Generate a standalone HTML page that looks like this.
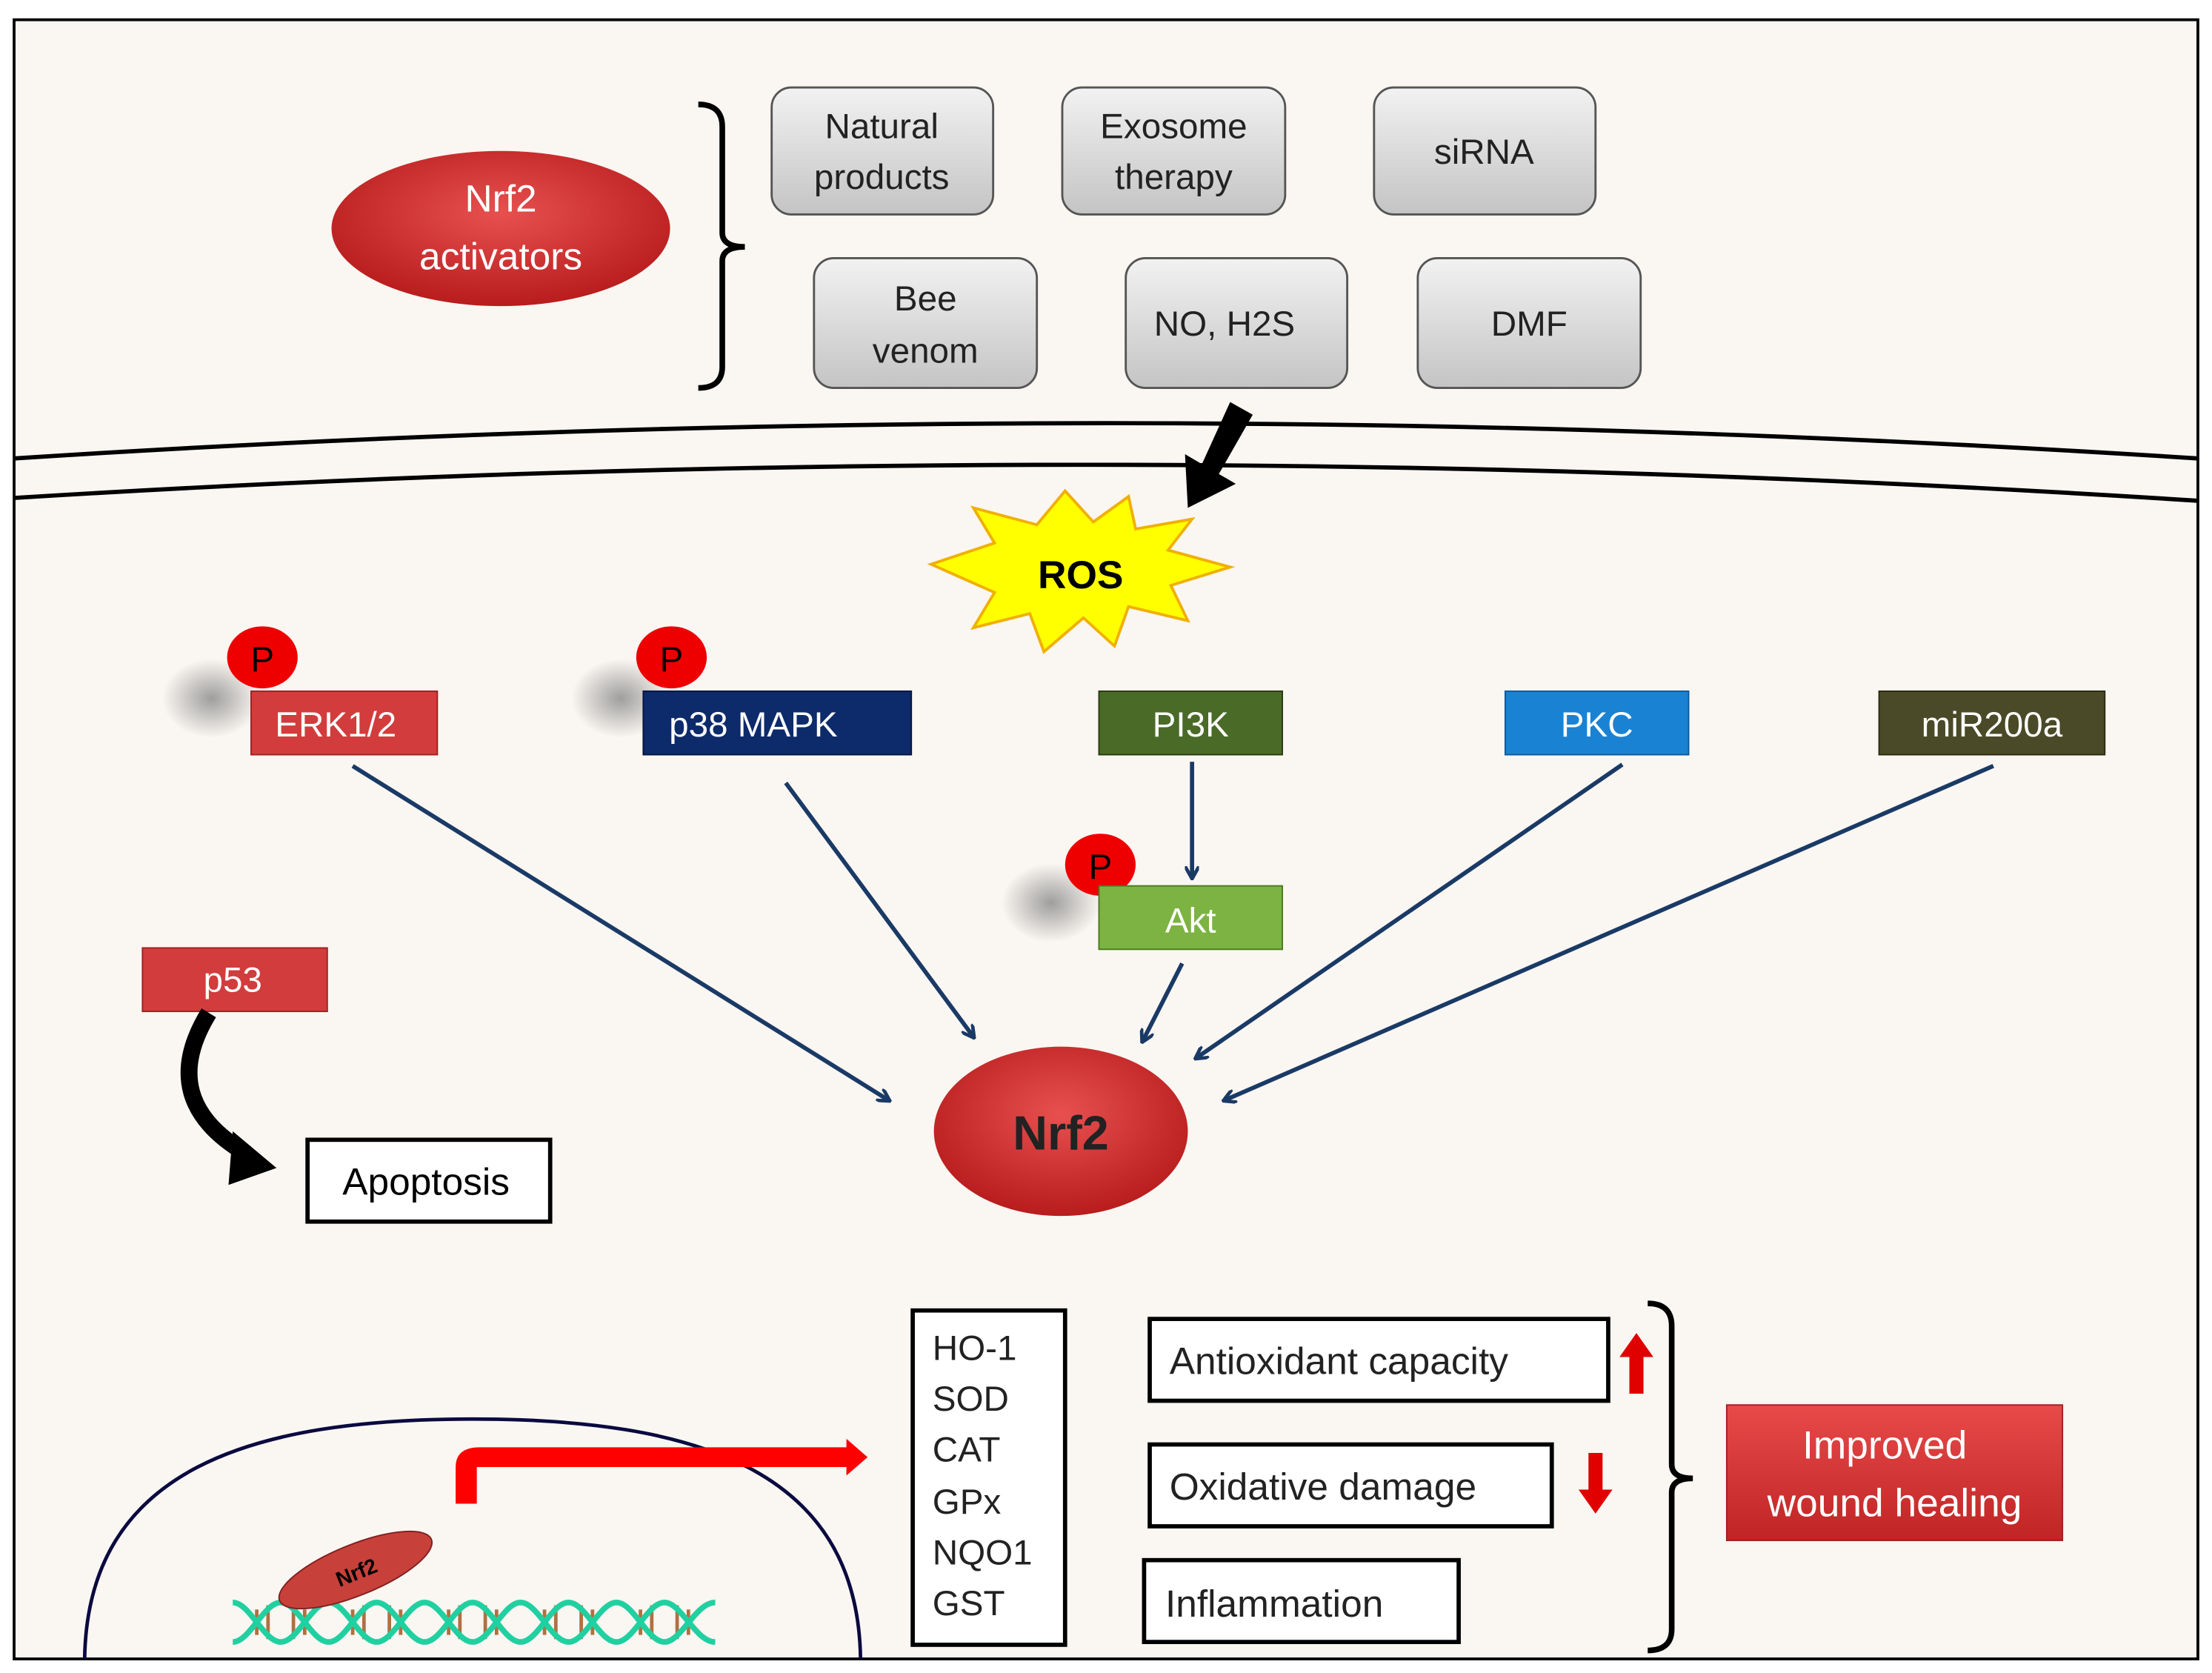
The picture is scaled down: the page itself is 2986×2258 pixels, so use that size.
<!DOCTYPE html>
<html><head><meta charset="utf-8"><style>html,body{margin:0;padding:0;background:#fff}svg{display:block}</style></head><body>
<svg width="2986" height="2258" viewBox="0 0 1568 1186" preserveAspectRatio="none" xmlns="http://www.w3.org/2000/svg" font-family="Liberation Sans, sans-serif">
<defs>
<linearGradient id="gray" x1="0" y1="0" x2="0" y2="1"><stop offset="0" stop-color="#f2f2f2"/><stop offset="1" stop-color="#c4c4c4"/></linearGradient>
<radialGradient id="red" cx="0.5" cy="0.4" r="0.6"><stop offset="0" stop-color="#e85050"/><stop offset="1" stop-color="#b81c1c"/></radialGradient>
<linearGradient id="redbox" x1="0" y1="0" x2="0" y2="1"><stop offset="0" stop-color="#e84a4a"/><stop offset="1" stop-color="#c02424"/></linearGradient>
<radialGradient id="shad"><stop offset="0" stop-color="#888" stop-opacity="0.8"/><stop offset="1" stop-color="#888" stop-opacity="0"/></radialGradient>
<marker id="ah" markerWidth="10" markerHeight="10" refX="8" refY="5" orient="auto" markerUnits="userSpaceOnUse"><path d="M0,0 L9,5 L0,10" fill="none" stroke="#1a3a66" stroke-width="2.5"/></marker>
</defs>
<rect x="0" y="0" width="1568" height="1186" fill="#fff"/>
<rect x="10" y="14" width="1548" height="1162" fill="#faf6f2" stroke="#000" stroke-width="2"/>
<path d="M10,325 Q784,275 1558,325" fill="none" stroke="#000" stroke-width="3"/>
<path d="M10,353 Q784,305 1558,355" fill="none" stroke="#000" stroke-width="3"/>
<ellipse cx="355" cy="162" rx="120" ry="55" fill="url(#red)"/>
<text x="355" y="150" font-size="27" fill="#fff" text-anchor="middle">Nrf2</text>
<text x="355" y="191" font-size="27" fill="#fff" text-anchor="middle">activators</text>
<path d="M495,74 Q512,74 512,90 L512,165 Q512,175 528,175 Q512,175 512,185 L512,260 Q512,275 495,275" fill="none" stroke="#000" stroke-width="4"/>
<g stroke="#555" stroke-width="1.5">
<rect x="547" y="62" width="157" height="90" rx="14" fill="url(#gray)"/>
<rect x="753" y="62" width="158" height="90" rx="14" fill="url(#gray)"/>
<rect x="974" y="62" width="157" height="90" rx="14" fill="url(#gray)"/>
<rect x="577" y="183" width="158" height="92" rx="14" fill="url(#gray)"/>
<rect x="798" y="183" width="157" height="92" rx="14" fill="url(#gray)"/>
<rect x="1005" y="183" width="158" height="92" rx="14" fill="url(#gray)"/>
</g>
<g font-size="25" fill="#222" text-anchor="middle">
<text x="625" y="98">Natural</text><text x="625" y="134">products</text>
<text x="832" y="98">Exosome</text><text x="832" y="134">therapy</text>
<text x="1052" y="116">siRNA</text>
<text x="656" y="220">Bee</text><text x="656" y="257">venom</text>
<text x="868" y="238">NO, H2S</text>
<text x="1084" y="238">DMF</text>
</g>
<polygon points="872,285 888,294 864,336 876,343 842,360 840,322 852,329" fill="#000"/>
<polygon points="660,400 705,385 690,360 735,372 755,348 775,370 800,352 805,375 845,368 828,390 872,402 830,415 842,440 800,430 790,458 768,438 740,462 730,435 690,445 705,420" fill="#ffff00" stroke="#f0b000" stroke-width="2"/>
<text x="766" y="417" font-size="28" font-weight="bold" text-anchor="middle">ROS</text>
<ellipse cx="150" cy="495" rx="35" ry="28" fill="url(#shad)"/>
<ellipse cx="440" cy="495" rx="35" ry="28" fill="url(#shad)"/>
<ellipse cx="745" cy="640" rx="35" ry="28" fill="url(#shad)"/>
<g font-size="25" text-anchor="middle">
<ellipse cx="186" cy="466" rx="25" ry="22" fill="#ee0000"/><text x="186" y="476">P</text>
<ellipse cx="476" cy="466" rx="25" ry="22" fill="#ee0000"/><text x="476" y="476">P</text>
<ellipse cx="780" cy="613" rx="25" ry="22" fill="#ee0000"/><text x="780" y="623">P</text>
</g>
<g font-size="25" fill="#fff" text-anchor="middle">
<rect x="178" y="490" width="132" height="45" fill="#d23c3c" stroke="#a02020"/><text x="238" y="522">ERK1/2</text>
<rect x="456" y="490" width="190" height="45" fill="#0d2a6a" stroke="#051540"/><text x="534" y="522">p38 MAPK</text>
<rect x="779" y="490" width="130" height="45" fill="#4a6a28" stroke="#2a3a14"/><text x="844" y="522">PI3K</text>
<rect x="1067" y="490" width="130" height="45" fill="#1a82d2" stroke="#0a5a9a"/><text x="1132" y="522">PKC</text>
<rect x="1332" y="490" width="160" height="45" fill="#4a4a28" stroke="#2a2a10"/><text x="1412" y="522">miR200a</text>
<rect x="779" y="628" width="130" height="45" fill="#7cb342" stroke="#4a7a20"/><text x="844" y="661">Akt</text>
<rect x="101" y="672" width="131" height="45" fill="#d23c3c" stroke="#a02020"/><text x="165" y="703">p53</text>
</g>
<g stroke="#1a3a66" stroke-width="3" fill="none" marker-end="url(#ah)">
<line x1="250" y1="543" x2="630" y2="780"/>
<line x1="557" y1="555" x2="690" y2="735"/>
<line x1="845" y1="540" x2="845" y2="622"/>
<line x1="838" y1="683" x2="810" y2="738"/>
<line x1="1150" y1="542" x2="848" y2="750"/>
<line x1="1413" y1="543" x2="868" y2="780"/>
</g>
<ellipse cx="752" cy="802" rx="90" ry="60" fill="url(#red)"/>
<text x="752" y="815" font-size="34" font-weight="bold" text-anchor="middle" fill="#222">Nrf2</text>
<path d="M148,718 Q110,780 175,818" fill="none" stroke="#000" stroke-width="12"/>
<polygon points="165,802 196,828 162,840" fill="#000"/>
<rect x="218" y="808" width="172" height="58" fill="#fff" stroke="#000" stroke-width="3"/>
<text x="302" y="847" font-size="27" text-anchor="middle">Apoptosis</text>
<path d="M60,1176 C62,1040 180,1006 335,1006 C490,1006 608,1040 610,1176" fill="none" stroke="#0a0a40" stroke-width="2.5"/>
<path d="M323,1066 L323,1040 Q323,1026 340,1026 L600,1026 L600,1020 L615,1033 L600,1046 L600,1040 L338,1040 L338,1066 Z" fill="#f00"/>
<g stroke="#b07040" stroke-width="2.5">
<line x1="182" y1="1141" x2="182" y2="1159"/><line x1="190" y1="1138" x2="190" y2="1162"/><line x1="208" y1="1138" x2="208" y2="1162"/><line x1="216" y1="1141" x2="216" y2="1159"/>
<line x1="250" y1="1141" x2="250" y2="1159"/><line x1="258" y1="1138" x2="258" y2="1162"/><line x1="276" y1="1138" x2="276" y2="1162"/><line x1="284" y1="1141" x2="284" y2="1159"/>
<line x1="318" y1="1141" x2="318" y2="1159"/><line x1="326" y1="1138" x2="326" y2="1162"/><line x1="344" y1="1138" x2="344" y2="1162"/><line x1="352" y1="1141" x2="352" y2="1159"/>
<line x1="386" y1="1141" x2="386" y2="1159"/><line x1="394" y1="1138" x2="394" y2="1162"/><line x1="412" y1="1138" x2="412" y2="1162"/><line x1="420" y1="1141" x2="420" y2="1159"/>
<line x1="454" y1="1141" x2="454" y2="1159"/><line x1="462" y1="1138" x2="462" y2="1162"/><line x1="480" y1="1138" x2="480" y2="1162"/><line x1="488" y1="1141" x2="488" y2="1159"/>
</g>
<g stroke="#20d0a0" stroke-width="4" fill="none">
<path d="M165,1136 C177,1136 187,1164 199,1164 S221,1136 233,1136 S255,1164 267,1164 S289,1136 301,1136 S323,1164 335,1164 S357,1136 369,1136 S391,1164 403,1164 S425,1136 437,1136 S459,1164 471,1164 S493,1136 507,1136"/>
<path d="M165,1164 C177,1164 187,1136 199,1136 S221,1164 233,1164 S255,1136 267,1136 S289,1164 301,1164 S323,1136 335,1136 S357,1164 369,1164 S391,1136 403,1136 S425,1164 437,1164 S459,1136 471,1136 S493,1164 507,1164"/>
</g>
<ellipse cx="252" cy="1113" rx="58" ry="18" transform="rotate(-22 252 1113)" fill="#c8403a" stroke="#802020"/>
<text x="252" y="1120" font-size="15" font-weight="bold" text-anchor="middle" transform="rotate(-22 252 1113)">Nrf2</text>
<rect x="647" y="929" width="108" height="237" fill="#fff" stroke="#000" stroke-width="3"/>
<g font-size="25" fill="#222">
<text x="661" y="964">HO-1</text><text x="661" y="1000">SOD</text><text x="661" y="1036">CAT</text><text x="661" y="1073">GPx</text><text x="661" y="1109">NQO1</text><text x="661" y="1145">GST</text>
</g>
<g fill="#fff" stroke="#000" stroke-width="3">
<rect x="815" y="935" width="325" height="58"/>
<rect x="815" y="1024" width="285" height="58"/>
<rect x="811" y="1106" width="223" height="58"/>
</g>
<g font-size="27" fill="#222">
<text x="829" y="974">Antioxidant capacity</text>
<text x="829" y="1063">Oxidative damage</text>
<text x="826" y="1146">Inflammation</text>
</g>
<polygon points="1160,945 1172,962 1165,962 1165,988 1155,988 1155,962 1148,962" fill="#e00000"/>
<polygon points="1131,1073 1143,1056 1136,1056 1136,1030 1126,1030 1126,1056 1119,1056" fill="#e00000"/>
<path d="M1168,924 Q1185,924 1185,940 L1185,1038 Q1185,1048 1200,1048 Q1185,1048 1185,1058 L1185,1155 Q1185,1170 1168,1170" fill="none" stroke="#000" stroke-width="4"/>
<rect x="1224" y="996" width="238" height="96" fill="url(#redbox)" stroke="#a02020"/>
<text x="1336" y="1034" font-size="28" fill="#fff" text-anchor="middle">Improved</text>
<text x="1343" y="1075" font-size="28" fill="#fff" text-anchor="middle">wound healing</text>
</svg>
</body></html>
